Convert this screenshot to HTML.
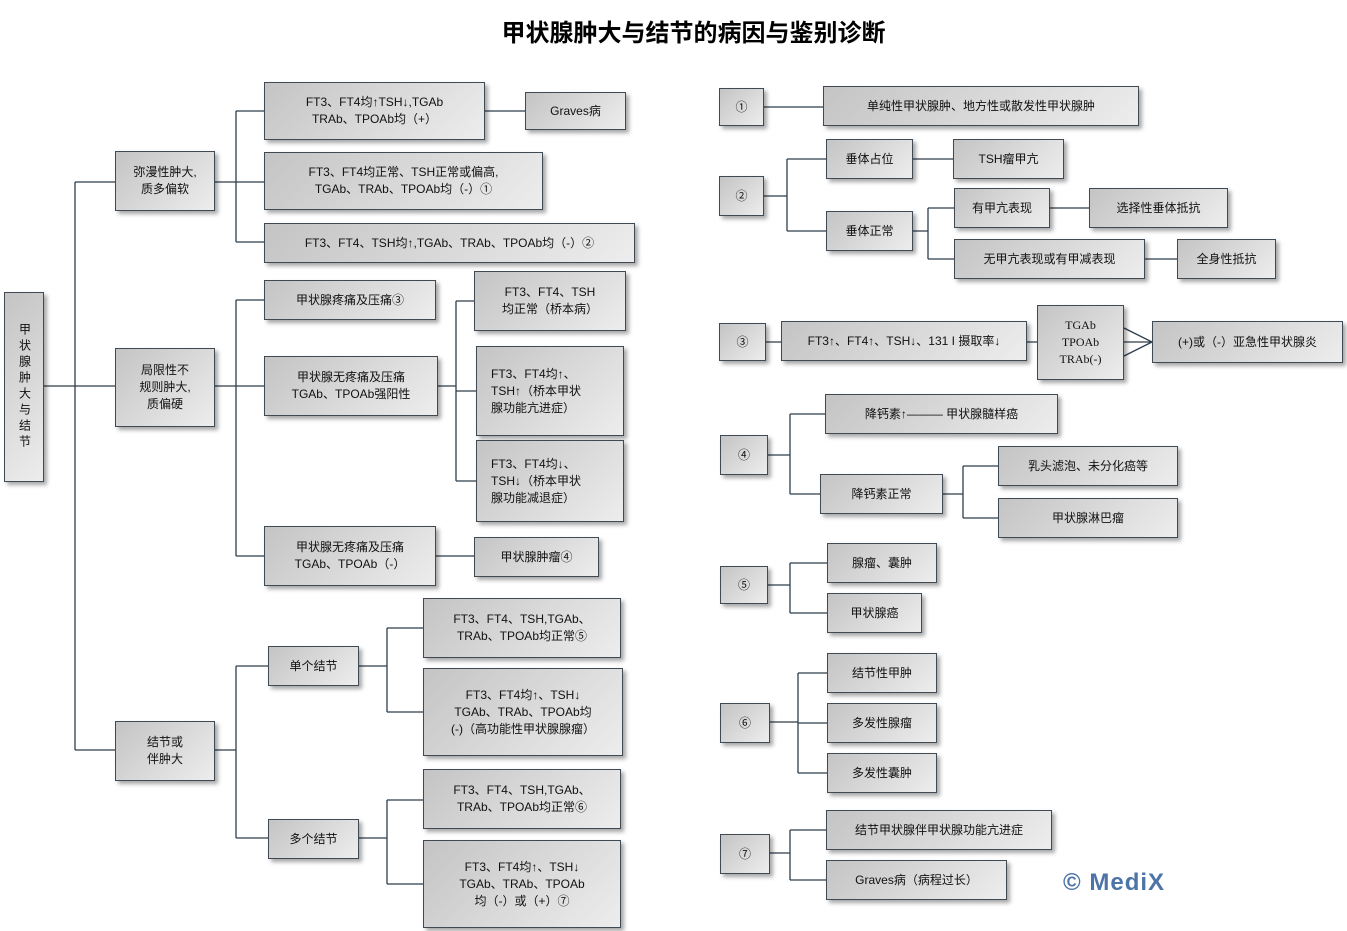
<!DOCTYPE html>
<html><head><meta charset="utf-8">
<style>
body{margin:0;width:1347px;height:931px;background:#fff;position:relative;overflow:hidden;font-family:"Liberation Sans","Noto Sans CJK SC",sans-serif;}
.b{position:absolute;box-sizing:border-box;border:1px solid #3f4a55;background:linear-gradient(135deg,#c4c4c4,#ededed);box-shadow:3px 3px 4px rgba(0,0,0,0.35);display:flex;align-items:center;justify-content:center;text-align:center;font-size:12px;line-height:17px;color:#111;}
.title{position:absolute;left:0;width:1387px;top:13px;text-align:center;font-size:24px;font-weight:bold;}
svg{position:absolute;left:0;top:0;}
</style></head><body>
<div class="title">甲状腺肿大与结节的病因与鉴别诊断</div>
<svg width="1347" height="931" stroke="#2f3e4c" stroke-width="1.3" fill="none">
<path d="M44 386H75M75 182V750M75 182H115M75 386H115M75 750H115"/>
<path d="M215 182H264M236 111V242M236 111H264M236 242H264M485 111H525"/>
<path d="M215 386H264M236 300V556M236 300H264M236 556H264M438 386H456M456 301V481M456 301H474M456 391H476M456 481H476M436 556H474"/>
<path d="M215 750H236M236 666V838M236 666H268M236 838H268M359 666H387M387 628V712M387 628H423M387 712H423M359 838H387M387 800V884M387 800H423M387 884H423"/>
<path d="M764 107H823"/>
<path d="M764 196H787M787 159V231M787 159H826M787 231H826M913 159H953M913 231H928M928 208V259M928 208H954M928 259H954M1050 208H1089M1145 259H1177"/>
<path d="M766 342H781M1027 342H1037M1124 328L1152 342M1124 342H1152M1124 356L1152 342"/>
<path d="M768 455H790M790 414V494M790 414H825M790 494H820M943 494H963M963 466V518M963 466H998M963 518H998"/>
<path d="M768 585H790M790 563V613M790 563H827M790 613H827"/>
<path d="M770 722H798M798 673V773M798 673H827M798 723H827M798 773H827"/>
<path d="M770 853H790M790 830V880M790 830H826M790 880H826"/>
</svg>
<div class="b" style="left:4px;top:292px;width:40px;height:190px;writing-mode:vertical-rl;letter-spacing:4px;">甲状腺肿大与结节</div>
<div class="b" style="left:115px;top:151px;width:100px;height:60px">弥漫性肿大,<br>质多偏软</div>
<div class="b" style="left:115px;top:348px;width:100px;height:79px">局限性不<br>规则肿大,<br>质偏硬</div>
<div class="b" style="left:115px;top:721px;width:100px;height:60px">结节或<br>伴肿大</div>
<div class="b" style="left:264px;top:82px;width:221px;height:58px">FT3、FT4均↑TSH↓,TGAb<br>TRAb、TPOAb均（+）</div>
<div class="b" style="left:525px;top:92px;width:101px;height:38px">Graves病</div>
<div class="b" style="left:264px;top:152px;width:279px;height:58px">FT3、FT4均正常、TSH正常或偏高,<br>TGAb、TRAb、TPOAb均（-）①</div>
<div class="b" style="left:264px;top:223px;width:371px;height:40px">FT3、FT4、TSH均↑,TGAb、TRAb、TPOAb均（-）②</div>
<div class="b" style="left:264px;top:280px;width:172px;height:40px">甲状腺疼痛及压痛③</div>
<div class="b" style="left:264px;top:356px;width:174px;height:60px">甲状腺无疼痛及压痛<br>TGAb、TPOAb强阳性</div>
<div class="b" style="left:264px;top:526px;width:172px;height:60px">甲状腺无疼痛及压痛<br>TGAb、TPOAb（-）</div>
<div class="b" style="left:474px;top:271px;width:152px;height:60px">FT3、FT4、TSH<br>均正常（桥本病）</div>
<div class="b" style="left:476px;top:346px;width:148px;height:90px;text-align:left;justify-content:flex-start;padding-left:14px">FT3、FT4均↑、<br>TSH↑（桥本甲状<br>腺功能亢进症）</div>
<div class="b" style="left:476px;top:440px;width:148px;height:82px;text-align:left;justify-content:flex-start;padding-left:14px">FT3、FT4均↓、<br>TSH↓（桥本甲状<br>腺功能减退症）</div>
<div class="b" style="left:474px;top:537px;width:125px;height:40px">甲状腺肿瘤④</div>
<div class="b" style="left:268px;top:646px;width:91px;height:40px">单个结节</div>
<div class="b" style="left:268px;top:819px;width:91px;height:40px">多个结节</div>
<div class="b" style="left:423px;top:598px;width:198px;height:60px">FT3、FT4、TSH,TGAb、<br>TRAb、TPOAb均正常⑤</div>
<div class="b" style="left:423px;top:668px;width:200px;height:88px">FT3、FT4均↑、TSH↓<br>TGAb、TRAb、TPOAb均<br>(-)（高功能性甲状腺腺瘤）</div>
<div class="b" style="left:423px;top:769px;width:198px;height:60px">FT3、FT4、TSH,TGAb、<br>TRAb、TPOAb均正常⑥</div>
<div class="b" style="left:423px;top:840px;width:198px;height:88px">FT3、FT4均↑、TSH↓<br>TGAb、TRAb、TPOAb<br>均（-）或（+）⑦</div>

<div class="b" style="left:719px;top:88px;width:45px;height:38px">①</div>
<div class="b" style="left:823px;top:86px;width:316px;height:40px">单纯性甲状腺肿、地方性或散发性甲状腺肿</div>
<div class="b" style="left:719px;top:176px;width:45px;height:40px">②</div>
<div class="b" style="left:826px;top:139px;width:87px;height:40px">垂体占位</div>
<div class="b" style="left:826px;top:211px;width:87px;height:40px">垂体正常</div>
<div class="b" style="left:953px;top:139px;width:111px;height:40px">TSH瘤甲亢</div>
<div class="b" style="left:954px;top:188px;width:96px;height:40px">有甲亢表现</div>
<div class="b" style="left:1089px;top:188px;width:139px;height:40px">选择性垂体抵抗</div>
<div class="b" style="left:954px;top:239px;width:191px;height:40px">无甲亢表现或有甲减表现</div>
<div class="b" style="left:1177px;top:239px;width:99px;height:40px">全身性抵抗</div>
<div class="b" style="left:719px;top:323px;width:47px;height:38px">③</div>
<div class="b" style="left:781px;top:321px;width:246px;height:40px">FT3↑、FT4↑、TSH↓、131 I 摄取率↓</div>
<div class="b" style="left:1037px;top:305px;width:87px;height:75px;font-family:'Liberation Serif',serif">TGAb<br>TPOAb<br>TRAb(-)</div>
<div class="b" style="left:1152px;top:321px;width:191px;height:42px">(+)或（-）亚急性甲状腺炎</div>
<div class="b" style="left:720px;top:435px;width:48px;height:40px">④</div>
<div class="b" style="left:825px;top:394px;width:233px;height:40px">降钙素↑——— 甲状腺髓样癌</div>
<div class="b" style="left:820px;top:474px;width:123px;height:40px">降钙素正常</div>
<div class="b" style="left:998px;top:446px;width:180px;height:40px">乳头滤泡、未分化癌等</div>
<div class="b" style="left:998px;top:498px;width:180px;height:40px">甲状腺淋巴瘤</div>
<div class="b" style="left:720px;top:566px;width:48px;height:38px">⑤</div>
<div class="b" style="left:827px;top:543px;width:110px;height:40px">腺瘤、囊肿</div>
<div class="b" style="left:827px;top:593px;width:95px;height:40px">甲状腺癌</div>
<div class="b" style="left:720px;top:703px;width:50px;height:40px">⑥</div>
<div class="b" style="left:827px;top:653px;width:110px;height:40px">结节性甲肿</div>
<div class="b" style="left:827px;top:703px;width:110px;height:40px">多发性腺瘤</div>
<div class="b" style="left:827px;top:753px;width:110px;height:40px">多发性囊肿</div>
<div class="b" style="left:720px;top:834px;width:50px;height:40px">⑦</div>
<div class="b" style="left:826px;top:810px;width:226px;height:40px">结节甲状腺伴甲状腺功能亢进症</div>
<div class="b" style="left:826px;top:860px;width:181px;height:40px">Graves病（病程过长）</div>
<div style="position:absolute;left:1063px;top:869px;font-size:24px;font-weight:bold;letter-spacing:1px;color:#4d74a8;">© MediX</div>
</body></html>
